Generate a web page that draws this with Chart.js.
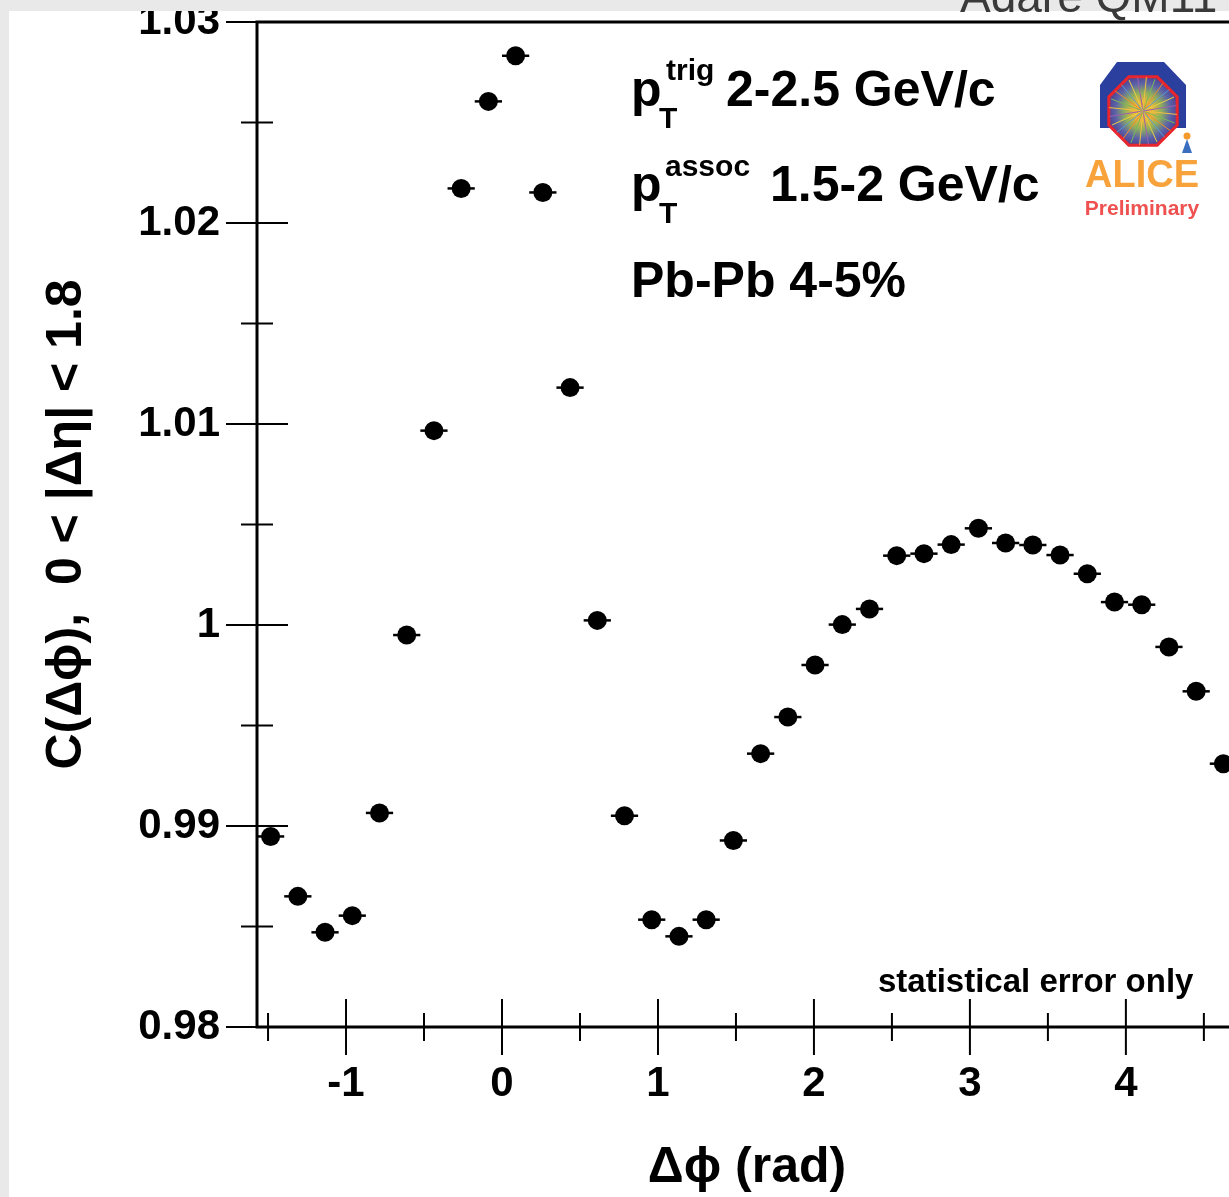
<!DOCTYPE html>
<html><head><meta charset="utf-8">
<script src="https://cdn.jsdelivr.net/npm/chart.js@4.4.1/dist/chart.umd.min.js"></script>
<style>
html,body{margin:0;padding:0;overflow:hidden;background:#fff;width:1229px;height:1197px;}
#wrap{position:absolute;left:0;top:0;width:1250px;height:1197px;}
</style></head><body>
<div id="wrap"><canvas id="c" width="1250" height="1197"></canvas></div>
<script>
// ---- data ----
const dphi = [-1.4835,-1.3090,-1.1345,-0.9599,-0.7854,-0.6109,-0.4363,-0.2618,-0.0873,0.0873,0.2618,0.4363,0.6109,0.7854,0.9599,1.1345,1.3090,1.4835,1.6581,1.8326,2.0071,2.1817,2.3562,2.5307,2.7053,2.8798,3.0543,3.2289,3.4034,3.5779,3.7525,3.9270,4.1015,4.2761,4.4506,4.6251];
const corr = [0.98948,0.98650,0.98471,0.98554,0.99065,0.99950,1.00967,1.02172,1.02605,1.02832,1.02152,1.01181,1.00023,0.99051,0.98534,0.98451,0.98534,0.98928,0.99360,0.99542,0.99801,1.00002,1.00080,1.00345,1.00355,1.00400,1.00481,1.00408,1.00398,1.00348,1.00255,1.00114,1.00101,0.99891,0.99670,0.99310];
const halfBinWidth = 0.0873;
const xRange = [-1.5708, 4.7124];
const yRange = [0.98, 1.03];
const xMajorTicks = [-1, 0, 1, 2, 3, 4];
const xTickLabels = ['-1', '0', '1', '2', '3', '4'];
const xMinorTicks = [-1.5, -0.5, 0.5, 1.5, 2.5, 3.5, 4.5];
const yMajorTicks = [0.98, 0.99, 1.00, 1.01, 1.02, 1.03];
const yTickLabels = ['0.98', '0.99', '1', '1.01', '1.02', '1.03'];
const yMinorTicks = [0.985, 0.995, 1.005, 1.015, 1.025];
const xTitle = 'Δϕ (rad)';
const yTitle = 'C(Δϕ),  0 < |Δη| < 1.8';

const FAM = '"Liberation Sans", Arial, Helvetica, sans-serif';
const B = s => `bold ${s}px ${FAM}`;

function line(ctx, x1, y1, x2, y2) { ctx.beginPath(); ctx.moveTo(x1, y1); ctx.lineTo(x2, y2); ctx.stroke(); }

function drawLogo(ctx) {
  ctx.save();
  ctx.fillStyle = '#2b3f9e';
  ctx.beginPath();
  ctx.moveTo(1117, 62); ctx.lineTo(1164, 62); ctx.lineTo(1186, 85); ctx.lineTo(1186, 128);
  ctx.lineTo(1100, 128); ctx.lineTo(1100, 85); ctx.closePath(); ctx.fill();
  const cx = 1143, cy = 111, r = 37;
  ctx.beginPath();
  for (let k = 0; k < 8; k++) {
    const a = Math.PI / 8 + k * Math.PI / 4;
    const px = cx + r * Math.cos(a), py = cy + r * Math.sin(a);
    if (k === 0) ctx.moveTo(px, py); else ctx.lineTo(px, py);
  }
  ctx.closePath();
  const g = ctx.createRadialGradient(cx, cy, 0, cx, cy, r);
  g.addColorStop(0, '#f6a21e'); g.addColorStop(0.25, '#eab83a'); g.addColorStop(0.5, '#8fae5c');
  g.addColorStop(0.75, '#5b62a8'); g.addColorStop(1, '#4a3c8c');
  ctx.fillStyle = g; ctx.fill();
  ctx.lineWidth = 3; ctx.strokeStyle = '#e8242c'; ctx.stroke();
  ctx.save(); ctx.clip();
  const cols = ['#f0c040', '#7ab85a', '#f08a30', '#5a9ad0', '#e8d040', '#9a60b0'];
  ctx.lineWidth = 1;
  for (let k = 0; k < 24; k++) {
    const a = k * Math.PI / 12 + 0.1;
    ctx.strokeStyle = cols[k % cols.length];
    line(ctx, cx, cy, cx + 34 * Math.cos(a), cy + 34 * Math.sin(a));
  }
  ctx.restore();
  ctx.fillStyle = '#f49a2a'; ctx.beginPath(); ctx.arc(1187, 136, 3.5, 0, Math.PI * 2); ctx.fill();
  ctx.fillStyle = '#3a6fc0'; ctx.beginPath(); ctx.moveTo(1187, 139); ctx.lineTo(1192, 153); ctx.lineTo(1182, 153); ctx.closePath(); ctx.fill();
  ctx.textAlign = 'center'; ctx.textBaseline = 'alphabetic';
  ctx.fillStyle = '#f7a23a'; ctx.font = B(38); ctx.fillText('ALICE', 1142, 187);
  ctx.fillStyle = '#ef5050'; ctx.font = B(21); ctx.fillText('Preliminary', 1142, 215);
  ctx.restore();
}

const decor = {
  id: 'decor',
  beforeDatasetsDraw(chart) {
    const ctx = chart.ctx, xs = chart.scales.x, ys = chart.scales.y;
    ctx.save();
    ctx.strokeStyle = '#000'; ctx.lineWidth = 2.5;
    dphi.forEach((x, i) => {
      const py = ys.getPixelForValue(corr[i]);
      line(ctx, xs.getPixelForValue(x - halfBinWidth), py, xs.getPixelForValue(x + halfBinWidth), py);
    });
    ctx.restore();
  },
  afterDraw(chart) {
    const ctx = chart.ctx, xs = chart.scales.x, ys = chart.scales.y;
    const { left, right, top, bottom } = chart.chartArea;
    ctx.save();
    ctx.strokeStyle = '#000';
    ctx.lineWidth = 3;
    ctx.strokeRect(left, top, right - left, bottom - top);
    ctx.lineWidth = 2;
    xMajorTicks.forEach(v => { const p = xs.getPixelForValue(v); line(ctx, p, bottom - 28, p, bottom + 28); });
    xMinorTicks.forEach(v => { const p = xs.getPixelForValue(v); line(ctx, p, bottom - 14, p, bottom + 14); });
    yMajorTicks.forEach(v => { const p = ys.getPixelForValue(v); line(ctx, left - 31, p, left + 31, p); });
    yMinorTicks.forEach(v => { const p = ys.getPixelForValue(v); line(ctx, left - 16, p, left + 16, p); });

    ctx.fillStyle = '#000'; ctx.textAlign = 'left'; ctx.textBaseline = 'alphabetic';
    ctx.font = B(50); ctx.fillText('p', 631, 106);
    ctx.font = B(30); ctx.fillText('trig', 666, 80); ctx.fillText('T', 659, 128);
    ctx.font = B(50); ctx.fillText('2-2.5 GeV/c', 726, 106);
    ctx.font = B(50); ctx.fillText('p', 631, 201);
    ctx.font = B(30); ctx.fillText('assoc', 665, 176); ctx.fillText('T', 659, 223);
    ctx.font = B(50); ctx.fillText('1.5-2 GeV/c', 770, 201);
    ctx.fillText('Pb-Pb 4-5%', 631, 297);
    ctx.font = B(33); ctx.fillText('statistical error only', 878, 992);

    drawLogo(ctx);

    ctx.fillStyle = '#e9e9e9';
    ctx.fillRect(0, 0, 1250, 11);
    ctx.fillRect(0, 0, 9, 1197);
    ctx.fillStyle = '#3a3a3a'; ctx.font = `46px ${FAM}`; ctx.textAlign = 'left';
    ctx.fillText('Adare QM11', 960, 12);
    ctx.restore();
  }
};

new Chart(document.getElementById('c'), {
  type: 'scatter',
  data: {
    datasets: [{
      data: dphi.map((x, i) => ({ x: x, y: corr[i] })),
      pointRadius: 9.5, pointHoverRadius: 9.5,
      backgroundColor: '#000', borderColor: '#000', borderWidth: 0,
      showLine: false
    }]
  },
  options: {
    responsive: false, animation: false, devicePixelRatio: 1,
    layout: { padding: { left: 0, top: 22, right: 13, bottom: 0 } },
    plugins: { legend: { display: false }, tooltip: { enabled: false } },
    scales: {
      x: {
        type: 'linear', position: 'bottom', min: xRange[0], max: xRange[1],
        afterBuildTicks: s => { s.ticks = xMajorTicks.map(v => ({ value: v })); },
        afterFit: s => { s.height = 170; s.paddingLeft = 0; s.paddingRight = 0; },
        grid: { display: false, drawTicks: false }, border: { display: false },
        ticks: { font: { family: FAM, size: 42, weight: 'bold' }, color: '#000', padding: 32, maxRotation: 0, autoSkip: false,
          callback: (v, i) => xTickLabels[i] },
        title: { display: true, text: xTitle, color: '#000', font: { family: FAM, size: 50, weight: 'bold', lineHeight: 1 }, padding: { top: 0, bottom: 4 } }
      },
      y: {
        type: 'linear', position: 'left', min: yRange[0], max: yRange[1],
        afterBuildTicks: s => { s.ticks = yMajorTicks.map(v => ({ value: v })); },
        afterFit: s => { s.width = 257; s.paddingTop = 0; s.paddingBottom = 0; },
        grid: { display: false, drawTicks: false }, border: { display: false },
        ticks: { font: { family: FAM, size: 42, weight: 'bold' }, color: '#000', padding: 37, autoSkip: false,
          callback: (v, i) => yTickLabels[i] },
        title: { display: true, text: yTitle, color: '#000', font: { family: FAM, size: 50, weight: 'bold', lineHeight: 1 }, padding: { top: 42, bottom: 0 } }
      }
    }
  },
  plugins: [decor]
});
</script>
</body></html>
